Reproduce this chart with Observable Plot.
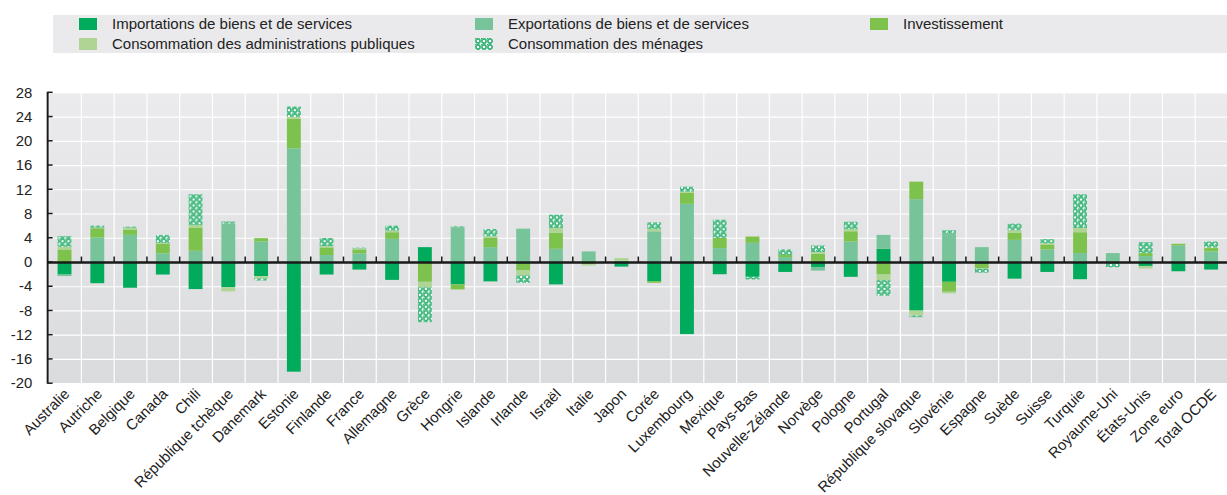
<!DOCTYPE html>
<html><head><meta charset="utf-8">
<script src="https://cdn.jsdelivr.net/npm/d3@7"></script>
<script src="https://cdn.jsdelivr.net/npm/@observablehq/plot@0.6"></script>
<style>
body{margin:0;overflow:hidden;background:#fff;font-family:"Liberation Sans",Arial,sans-serif;}
#wrap{position:relative;width:1227px;height:495px;overflow:hidden}
#legend{position:absolute;left:53px;top:15px;width:1174px;height:38px;background:#EAEAEC;z-index:2}
.item{position:absolute;font-size:15px;color:#222;line-height:16px;white-space:nowrap}
.sw{position:absolute;width:18px;height:12px}
#chart{position:absolute;left:0;top:0}
</style></head>
<body><div id="wrap"><div id="legend"></div><div id="chart"></div></div>
<script>
const countries = ["Australie","Autriche","Belgique","Canada","Chili","République tchèque","Danemark","Estonie","Finlande","France","Allemagne","Grèce","Hongrie","Islande","Irlande","Israël","Italie","Japon","Corée","Luxembourg","Mexique","Pays-Bas","Nouvelle-Zélande","Norvège","Pologne","Portugal","République slovaque","Slovénie","Espagne","Suède","Suisse","Turquie","Royaume-Uni","États-Unis","Zone euro","Total OCDE"];
const seriesNames = ["Importations de biens et de services","Exportations de biens et de services","Investissement","Consommation des administrations publiques","Consommation des ménages"];
const imports    = [-2.07,-3.5,-4.25,-2.07,-4.47,-4.15,-2.35,-18.1,-2.07,-1.25,-2.95,2.45,-3.7,-3.2,-0.3,-3.7,0,-0.76,-3.16,-11.9,-2.02,-2.45,-1.64,-0.82,-2.45,2.18,-8.02,-3.27,-0.3,-2.75,-1.64,-2.84,0,-0.65,-1.53,-1.25];
const exports_   = [-0.25,4.04,4.47,1.42,1.85,6.38,3.38,18.77,1.15,1.42,3.82,0,5.73,2.45,5.5,2.18,1.75,0.2,5.07,9.6,2.29,3.16,0.82,-0.6,3.38,2.29,10.37,4.8,2.45,3.65,2.07,1.47,1.47,0.98,2.73,1.75];
const investment = [2.07,1.53,0.82,1.58,3.76,0,0.55,4.86,1.25,0.65,1.09,-3.27,-0.76,1.53,-1.1,2.62,-0.38,0,-0.27,1.85,1.69,1.04,0.33,1.36,1.69,-2.07,2.89,-1.64,-0.7,1.15,0.82,3.44,0,0.49,0.27,0.55];
const admin      = [0.44,0.1,0.38,0.16,0.5,-0.7,-0.38,0.33,0.2,0.2,0.27,-0.93,-0.16,0.27,-0.82,0.82,-0.2,0.45,0.38,0.16,0,0,0,0.27,0.38,-0.93,-0.82,-0.27,-0.1,0.44,0.22,0.71,0,-0.44,0,0.1];
const households = [1.75,0.33,0.16,1.3,5.07,0.3,-0.33,1.7,1.36,0.1,0.82,-5.73,0.16,1.2,-1.2,2.18,0,0,1.09,0.82,3.0,-0.44,0.93,1.09,1.2,-2.56,-0.27,0.44,-0.65,1.09,0.65,5.56,-0.87,1.8,0,0.98];
const yTicks = [-20,-16,-12,-8,-4,0,4,8,12,16,20,24,28];

const seriesValues = [imports, exports_, investment, admin, households];
const seriesFills = ["#00AB5B","#78C49A","#7DC24C","#AFD595","url(#hh)"];

const data = [];
seriesNames.forEach((s, k) => countries.forEach((c, i) => data.push({country: c, series: s, value: seriesValues[k][i]})));

const ns = "http://www.w3.org/2000/svg";
function patternDefs(id) {
  return `<pattern id="${id}" patternUnits="userSpaceOnUse" width="6" height="6">
    <rect width="6" height="6" fill="#ffffff"/>
    <circle cx="3" cy="3" r="2.1" fill="none" stroke="#2FB171" stroke-width="1.6"/>
    <rect x="0" y="0" width="1" height="1" fill="#2FB171"/>
  </pattern>`;
}
function defsMark() {
  const defs = document.createElementNS(ns, "defs");
  defs.innerHTML = `<linearGradient id="bgGrad" x1="0" y1="0" x2="0" y2="1">
      <stop offset="0" stop-color="#EBEBED"/><stop offset="1" stop-color="#DADBDD"/>
    </linearGradient>` + patternDefs("hh");
  return defs;
}
function yAxisLine(index, scales, values, dims) {
  const g = document.createElementNS(ns, "g");
  const y = scales.y;
  const x0 = dims.marginLeft;
  const mk = (x1, y1, x2, y2, w) => {
    const l = document.createElementNS(ns, "line");
    l.setAttribute("x1", x1); l.setAttribute("y1", y1);
    l.setAttribute("x2", x2); l.setAttribute("y2", y2);
    l.setAttribute("stroke", "#1a1a1a"); l.setAttribute("stroke-width", w);
    g.appendChild(l);
  };
  mk(x0, y(28) - 0.5, x0, y(-20) + 0.5, 2);
  yTicks.forEach(t => mk(x0, y(t), x0 + 5, y(t), 1.5));
  return g;
}

const chart = Plot.plot({
  width: 1236, height: 495,
  marginTop: 93, marginBottom: 109, marginLeft: 48, marginRight: 0,
  style: {fontFamily: "Liberation Sans, Arial, sans-serif", fontSize: "15px", color: "#222", background: "transparent", overflow: "visible"},
  x: {domain: countries, paddingInner: 0.58, paddingOuter: 0.29, label: null},
  y: {domain: [-20, 28], label: null},
  color: {domain: seriesNames, range: seriesFills},
  marks: [
    defsMark,
    Plot.frame({fill: "url(#bgGrad)", stroke: null}),
    Plot.ruleY(yTicks, {stroke: "#ffffff", strokeWidth: 1.2}),
    Plot.ruleX(countries, {x: d => d, dx: -16.5, stroke: "#ffffff", strokeWidth: 1.2}),
    Plot.barY(data, {x: "country", y: "value", fill: "series"}),
    Plot.ruleY([0], {stroke: "#1a1a1a", strokeWidth: 2.5}),
    Plot.ruleX(countries.slice(1), {x: d => d, y1: 0, y2: 0.9, dx: -16.5, stroke: "#1a1a1a", strokeWidth: 1.5}),
    yAxisLine,
    Plot.axisY({ticks: yTicks, tickSize: 0, tickPadding: 16, tickFormat: d => String(d), fontSize: 15}),
    Plot.axisX({tickRotate: -45, tickSize: 0, tickPadding: 8, dx: 2, fontSize: 15})
  ]
});
document.getElementById("chart").appendChild(chart);

// legend
const legend = document.getElementById("legend");
const pos = [[26, 3], [422, 3], [817, 3], [26, 23], [422, 23]];
seriesNames.forEach((s, k) => {
  const [x, y] = pos[k];
  const sw = document.createElementNS(ns, "svg");
  sw.setAttribute("class", "sw");
  sw.setAttribute("width", 18); sw.setAttribute("height", 12);
  sw.style.left = x + "px"; sw.style.top = y + "px";
  const fill = k === 4 ? "url(#hhL)" : seriesFills[k];
  sw.innerHTML = (k === 4 ? `<defs>${patternDefs("hhL")}</defs>` : "") + `<rect width="18" height="12" fill="${fill}"/>`;
  legend.appendChild(sw);
  const t = document.createElement("div");
  t.className = "item";
  t.textContent = s;
  t.style.left = (x + 33) + "px"; t.style.top = (y - 2) + "px";
  legend.appendChild(t);
});
</script>
</body></html>
